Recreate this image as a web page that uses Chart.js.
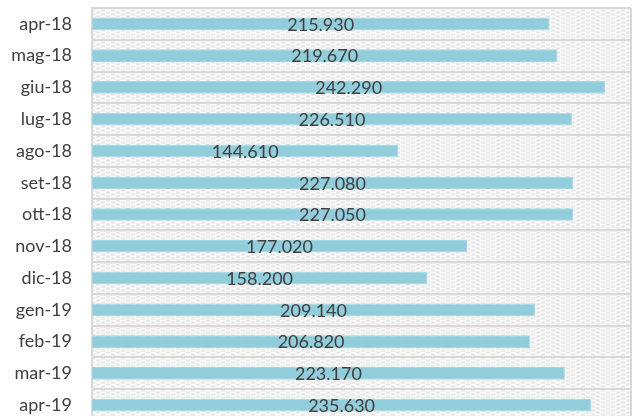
<!DOCTYPE html>
<html>
<head>
<meta charset="utf-8">
<script src="https://cdn.jsdelivr.net/npm/chart.js@4"></script>
<style>
  html, body { margin: 0; padding: 0; background: #fff; overflow: hidden; }
  #wrap { width: 633px; height: 429px; position: relative; }
</style>
</head>
<body>
<div id="wrap"><canvas id="chart"></canvas></div>
<script>
// data
const months = ['apr-18', 'mag-18', 'giu-18', 'lug-18', 'ago-18', 'set-18', 'ott-18',
                'nov-18', 'dic-18', 'gen-19', 'feb-19', 'mar-19', 'apr-19'];
const values = [215930, 219670, 242290, 226510, 144610, 227080, 227050,
                177020, 158200, 209140, 206820, 223170, 235630];

function fmt(n) {
  return String(n).replace(/\B(?=(\d{3})+(?!\d))/g, '.');
}

// light grey texture behind the bars
function makePattern() {
  const c = document.createElement('canvas');
  c.width = 10; c.height = 4;
  const g = c.getContext('2d');
  g.fillStyle = '#e6e6e6';
  g.fillRect(0, 0, 10, 4);
  g.fillStyle = '#ffffff';
  g.fillRect(0, 0, 6, 1);
  g.fillRect(5, 2, 6, 1);
  g.fillRect(0, 2, 1, 1);
  g.fillStyle = '#f1f1f1';
  g.fillRect(0, 1, 10, 1);
  g.fillRect(0, 3, 10, 1);
  return g.createPattern(c, 'repeat');
}

const bgPlugin = {
  id: 'bg',
  beforeDraw(chart) {
    const a = chart.chartArea;
    const ctx = chart.ctx;
    ctx.save();
    ctx.fillStyle = makePattern();
    ctx.fillRect(a.left, a.top, a.right - a.left, a.bottom - a.top);
    ctx.strokeStyle = '#d9d9d9';
    ctx.lineWidth = 2;
    ctx.beginPath();
    ctx.moveTo(a.right, a.top);
    ctx.lineTo(a.right, a.bottom);
    ctx.stroke();
    ctx.restore();
  }
};

const labelPlugin = {
  id: 'barLabels',
  afterDatasetsDraw(chart) {
    const ctx = chart.ctx;
    const meta = chart.getDatasetMeta(0);
    ctx.save();
    ctx.font = '18px Lato, "Liberation Sans", sans-serif';
    ctx.fillStyle = '#404040';
    ctx.textAlign = 'center';
    ctx.textBaseline = 'middle';
    meta.data.forEach((bar, i) => {
      const cx = (bar.x + bar.base) / 2;
      ctx.fillText(fmt(values[i]), cx, bar.y + 1);
    });
    ctx.restore();
  }
};

const ctx = document.getElementById('chart').getContext('2d');

new Chart(ctx, {
  type: 'bar',
  data: {
    labels: months,
    datasets: [{
      data: values,
      backgroundColor: '#92cddc',
      borderColor: '#a6d6e3',
      borderWidth: 1,
      borderSkipped: false,
      barPercentage: 0.4,
      categoryPercentage: 1
    }]
  },
  options: {
    indexAxis: 'y',
    responsive: true,
    maintainAspectRatio: false,
    animation: false,
    layout: { padding: { top: 0, right: 2, bottom: 0, left: 0 } },
    plugins: {
      legend: { display: false },
      tooltip: { enabled: false }
    },
    scales: {
      x: {
        display: false,
        min: 0,
        max: 254400
      },
      y: {
        afterFit(scale) { scale.width = 92; },
        grid: {
          offset: true,
          color: '#d9d9d9',
          lineWidth: 2,
          drawTicks: true,
          tickLength: 20,
          tickColor: 'rgba(0,0,0,0)'
        },
        border: { color: '#d9d9d9', width: 2 },
        ticks: {
          padding: 0,
          color: '#404040',
          font: { family: 'Lato, "Liberation Sans", sans-serif', size: 18, lineHeight: '16px' }
        }
      }
    }
  },
  plugins: [bgPlugin, labelPlugin]
});
</script>
</body>
</html>
